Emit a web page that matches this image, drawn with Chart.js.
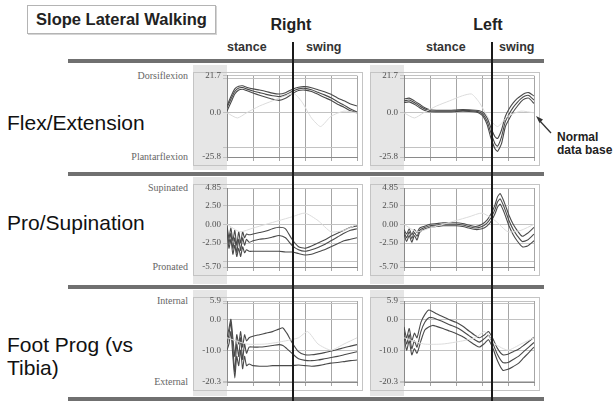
<!DOCTYPE html>
<html>
<head>
<meta charset="utf-8">
<script src="https://cdn.jsdelivr.net/npm/chart.js@4.4.1/dist/chart.umd.min.js"></script>
<style>
  html, body { margin: 0; padding: 0; background: #fff; }
  body { width: 615px; height: 401px; position: relative; overflow: hidden;
         font-family: "Liberation Sans", Arial, sans-serif; color: #1a1a1a; }
  .abs { position: absolute; white-space: nowrap; }
  .title { left: 27px; top: 5px; width: 187px; height: 27px; border: 1px solid #b4b4b4;
           box-shadow: 1px 1px 0 #d4d4d4; font-weight: bold; font-size: 16.5px;
           line-height: 27px; text-align: center; color: #222; }
  .side { font-weight: bold; font-size: 16px; line-height: 16px; width: 80px; text-align: center; color: #222; }
  .phase { font-weight: bold; font-size: 12.5px; line-height: 13px; color: #333; }
  .rowlab { font-size: 21px; line-height: 21px; color: #111; }
  .rule { left: 68px; width: 476px; height: 4px; background: #707070; z-index: 2; }
  .divider { width: 2px; background: #1a1a1a; top: 42px; height: 359px; z-index: 5; }
  .axname { font-family: "Liberation Serif", serif; font-size: 10px; line-height: 10px;
            color: #666; text-align: right; width: 70px; left: 118px; }
  .note { font-weight: bold; font-size: 12px; line-height: 13px; color: #222; left: 557px; }
  .panel { position: absolute; z-index: 1; }
</style>
</head>
<body>
<div class="abs title">Slope Lateral Walking</div>
<div class="abs side" style="left:251px; top:16.5px;">Right</div>
<div class="abs side" style="left:448px; top:16.5px;">Left</div>
<div class="abs phase" style="left:227px; top:41px;">stance</div>
<div class="abs phase" style="left:306px; top:41px;">swing</div>
<div class="abs phase" style="left:426px; top:41px;">stance</div>
<div class="abs phase" style="left:499px; top:41px;">swing</div>

<div class="abs rule" style="top:59px;"></div>
<div class="abs rule" style="top:172px;"></div>
<div class="abs rule" style="top:285px;"></div>
<div class="abs rule" style="top:397px;"></div>

<div class="abs divider" style="left:292px;"></div>
<div class="abs divider" style="left:491px;"></div>

<div class="abs rowlab" style="left:7px; top:112px;">Flex/Extension</div>
<div class="abs rowlab" style="left:7px; top:211.5px;">Pro/Supination</div>
<div class="abs rowlab" style="left:7px; top:333.5px;">Foot Prog (vs</div>
<div class="abs rowlab" style="left:7px; top:357px;">Tibia)</div>

<div class="abs axname" style="top:70.5px;">Dorsiflexion</div>
<div class="abs axname" style="top:152px;">Plantarflexion</div>
<div class="abs axname" style="top:183px;">Supinated</div>
<div class="abs axname" style="top:262px;">Pronated</div>
<div class="abs axname" style="top:296px;">Internal</div>
<div class="abs axname" style="top:377px;">External</div>

<div class="abs note" style="top:131px;">Normal</div>
<div class="abs note" style="top:144px;">data base</div>
<svg class="abs" style="left:530px; top:110px; z-index:6;" width="30" height="30">
  <line x1="21" y1="23" x2="9" y2="10" stroke="#333" stroke-width="1.3"/>
  <polygon points="6,6 13,9.5 9.5,13" fill="#333"/>
</svg>

<script>
// Percent of gait cycle for the vertical grid
const gaitGrid = [0, 20, 40, 60, 80, 100];

// Axis ranges, labelled ticks and grid lines for each measure
const flexRange = [-25.8, 21.7];
const flexLabels = [21.7, 0, -25.8];
const flexGrid = [21.7, 20, 0, -20, -25.8];

const proRange = [-5.7, 4.85];
const proLabels = [4.85, 2.5, 0, -2.5, -5.7];
const proGrid = [4.85, 2.5, 0, -2.5, -5, -5.7];

const progRange = [-20.3, 5.9];
const progLabels = [5.9, 0, -10, -20.3];
const progGrid = [5.9, 5, 0, -10, -20, -20.3];

// Normal reference curves
const normFlexPct = [0, 8, 15, 25, 35, 45, 52, 58, 65, 72, 80, 90, 100];
const normFlex = [0, -3, 0, 4, 7, 10, 11, 6, -3, -8, -2, 1, 0];
const normProPct = [0, 10, 20, 30, 40, 50, 60, 70, 80, 90, 100];
const normPro = [0, -1, -0.5, 0, 0.5, 1, 1.5, 0.5, -1, -0.8, 0];
const normProgPct = [0, 15, 30, 45, 55, 62, 70, 80, 90, 100];
const normProg = [-6, -8, -8, -7, -6, -4, -8, -10, -8, -6];

// Right ankle flexion / extension (mean and +/- 1 SD)
const rFlexPct = [0, 3, 6, 9, 12, 15, 20, 25, 30, 35, 40, 45, 50, 55, 60, 65, 70, 75, 80, 85, 90, 95, 100];
const rFlexMean = [3, 8, 12.5, 14.5, 14.8, 14, 12.8, 11.8, 10.8, 10, 9.5, 10.5, 12.5, 14, 14.3, 13.5, 12, 10.5, 8.8, 6.5, 4.5, 2.2, 0.5];
const rFlexHi = [4, 9.5, 14, 15.5, 15.8, 15, 14, 13.3, 12.5, 11.5, 11, 11.8, 13.7, 15, 15.3, 14.7, 13.5, 12.3, 10.8, 8.7, 7, 5.2, 4];
const rFlexLo = [1, 6, 11, 13.3, 13.8, 13, 11.6, 10.3, 9.1, 8, 7.3, 8.5, 11, 13, 13.3, 12.5, 10.8, 9, 7.3, 5, 3.3, 1.2, 0];

// Left ankle flexion / extension
const lFlexPct = [0, 4, 8, 12, 16, 20, 25, 30, 35, 40, 45, 50, 55, 58, 61, 64, 67, 70, 72, 75, 78, 81, 84, 87, 90, 93, 96, 100];
const lFlexMean = [7, 7.5, 6, 4, 2.2, 1.2, 1, 1, 1, 1.2, 1.4, 1.3, 1, 0.5, -1, -5, -12, -18, -19.5, -14, -5, -0.5, 3.2, 6, 8.3, 9.8, 10.2, 7.5];
const lFlexHi = [8, 8.6, 7, 5, 3, 1.8, 1.5, 1.5, 1.5, 1.7, 1.9, 1.8, 1.5, 1.2, 0.2, -3, -9, -14, -15, -10, -2, 2.5, 5.8, 8.3, 10, 11.4, 11.8, 9.8];
const lFlexLo = [6, 6.4, 5, 3, 1.4, 0.6, 0.5, 0.5, 0.5, 0.7, 0.9, 0.8, 0.5, -0.2, -2.2, -7, -15, -21, -22.5, -18, -8, -3.5, 0.6, 3.7, 6.6, 8.2, 8.6, 5.5];

// Right pronation / supination
const rProPct = [0, 1.5, 3, 4.5, 6, 7.5, 9, 10.5, 12, 13.5, 15, 17, 20, 25, 30, 35, 40, 45, 50, 55, 60, 65, 70, 75, 80, 85, 90, 95, 100];
const rProMean = [-0.5, -2.5, -1.2, -3.2, -1.8, -3.8, -2, -3.5, -1.8, -2.8, -2, -2.4, -2.2, -2, -1.9, -1.7, -1.5, -1.8, -2.8, -3.4, -3.6, -3.4, -3.1, -2.7, -2.2, -1.7, -1.2, -0.8, -0.6];
const rProHi = [-0.2, -1.8, -0.5, -2.2, -0.8, -2.8, -1, -2.5, -1, -1.8, -1.3, -1.4, -1.3, -1.1, -0.9, -0.6, -0.4, -0.6, -2, -3, -3.2, -2.9, -2.5, -2.1, -1.6, -1.2, -0.8, -0.4, -0.2];
const rProLo = [-0.8, -3.2, -2, -4, -2.8, -4.3, -3.2, -4.3, -3, -3.8, -3.4, -3.6, -3.6, -3.6, -3.6, -3.6, -3.6, -3.7, -3.7, -3.9, -4.1, -4, -3.7, -3.4, -3, -2.6, -2.2, -2, -1.8];

// Left pronation / supination
const lProPct = [0, 2, 4, 6, 8, 10, 12, 15, 20, 25, 30, 35, 40, 45, 50, 55, 60, 64, 67, 70, 72, 74, 77, 81, 84, 87, 91, 95, 100];
const lProMean = [-1, -1.8, -1, -1.9, -1.1, -1.6, -0.8, -0.5, -0.2, -0.1, 0, 0, 0, -0.1, -0.3, -0.5, -0.3, 0.2, 0.9, 2, 3, 3.4, 2.3, 0.4, -0.7, -1.5, -2.3, -2.1, -1.3];
const lProHi = [-0.7, -1.3, -0.6, -1.4, -0.7, -1.1, -0.5, -0.3, 0, 0.1, 0.2, 0.2, 0.2, 0.1, -0.1, -0.3, 0, 0.6, 1.4, 2.6, 3.7, 4.1, 3, 1.1, 0, -0.8, -1.6, -1.2, -0.4];
const lProLo = [-1.3, -2.3, -1.5, -2.4, -1.5, -2.1, -1.1, -0.7, -0.4, -0.3, -0.2, -0.2, -0.2, -0.3, -0.5, -0.7, -0.6, -0.2, 0.4, 1.4, 2.3, 2.7, 1.6, -0.3, -1.4, -2.2, -3, -2.9, -2.2];

// Right foot progression (vs tibia)
const rProgPct = [0, 1.5, 3, 4.5, 6, 7.5, 9, 10.5, 12, 13.5, 15, 17, 20, 25, 30, 35, 40, 43, 46, 50, 55, 60, 65, 70, 75, 80, 85, 90, 95, 100];
const rProgMean = [-8, -5, -1, -9, -17, -8, -12, -6, -13, -8, -11, -9, -9, -9, -8.8, -8.5, -8.2, -8.5, -9.5, -11, -12.8, -13.3, -13.4, -13.2, -12.8, -12.4, -12, -11.5, -11, -10.5];
const rProgHi = [-6, -3, 0, -6, -12, -5, -8, -4, -9, -5, -7, -6, -5.5, -5, -4.5, -4, -3.2, -2.8, -4.5, -7.5, -10.5, -11.5, -11.5, -11.2, -10.8, -10.3, -9.8, -9.2, -8.7, -8.2];
const rProgLo = [-10, -8, -4, -12, -19, -12, -15, -10, -16, -12, -15, -14.5, -15, -15.2, -15.2, -15, -15, -15, -15, -15, -14.8, -15, -15.2, -15, -14.6, -14.2, -14, -13.7, -13.4, -13.2];

// Left foot progression (vs tibia)
const lProgPct = [0, 2, 4, 6, 8, 10, 13, 16, 19, 22, 25, 30, 35, 40, 45, 50, 55, 58, 62, 65, 68, 72, 76, 80, 84, 88, 92, 96, 100];
const lProgMean = [-4, -8, -5, -9.5, -7, -9, -4, -1, 0.5, 0.5, 0, -0.8, -1.8, -2.6, -3.8, -5.3, -6.8, -7.4, -6.2, -5.2, -7.5, -11.5, -14, -14, -13, -12, -10.5, -9, -7.5];
const lProgHi = [-2.5, -6, -3, -7, -4.5, -6, -1, 1.5, 3, 2.5, 1.8, 0.8, -0.2, -1, -2.2, -3.8, -5.3, -6, -5, -4, -6, -9.5, -11.5, -11.3, -10.5, -9.7, -8.5, -7.2, -5.8];
const lProgLo = [-5.5, -10, -7, -11.5, -9.5, -11, -7, -3.5, -2.5, -2, -2.3, -3, -3.8, -4.6, -5.6, -7, -8.4, -9, -7.8, -6.6, -9, -13.5, -16.5, -16.2, -15.3, -14.3, -12.5, -10.8, -9];

const X_AXIS_H = 5;
const BAND_W = 34;
const TRACE = '#4a4a4a';
const TRACE_W = 1.1;
const NORMAL = '#dcdcdc';

// Grey label band behind the y ticks and a light outer frame round each panel
const panelFrame = {
  id: 'panelFrame',
  beforeDraw(chart) {
    const { ctx, chartArea: a, height } = chart;
    const bandLeft = a.left - BAND_W;
    ctx.save();
    ctx.fillStyle = '#e6e6e6';
    ctx.fillRect(bandLeft, 1, BAND_W, height - 2);
    ctx.strokeStyle = '#c4c4c4';
    ctx.lineWidth = 1;
    ctx.strokeRect(Math.round(bandLeft) + 0.5, Math.round(a.top) - 3.5,
                   Math.round(a.right + 5 - bandLeft), Math.round(a.bottom - a.top) + 12);
    ctx.restore();
  }
};

function series(pct, vals, color, width) {
  return {
    data: pct.map((p, i) => ({ x: p, y: vals[i] })),
    borderColor: color, borderWidth: width, pointRadius: 0, tension: 0.2, fill: false
  };
}

function trio(pct, hi, mean, lo) {
  return [series(pct, hi, TRACE, TRACE_W), series(pct, mean, TRACE, TRACE_W), series(pct, lo, TRACE, TRACE_W)];
}

function buildPanel(box, plot, range, grid, labels, dec, lines) {
  const wrap = document.createElement('div');
  wrap.className = 'panel';
  Object.assign(wrap.style, { left: box.left + 'px', top: box.top + 'px',
                              width: box.width + 'px', height: box.height + 'px' });
  const cv = document.createElement('canvas');
  wrap.appendChild(cv);
  document.body.appendChild(wrap);

  return new Chart(cv, {
    type: 'line',
    data: { datasets: lines },
    options: {
      responsive: true, maintainAspectRatio: false, animation: false,
      layout: { padding: {
        top: plot.top - box.top, left: 0,
        right: box.left + box.width - plot.right,
        bottom: box.top + box.height - plot.bottom - X_AXIS_H } },
      plugins: { legend: { display: false }, tooltip: { enabled: false } },
      scales: {
        x: {
          type: 'linear', min: 0, max: 100,
          afterBuildTicks: s => { s.ticks = gaitGrid.map(v => ({ value: v })); },
          ticks: { display: false },
          grid: { color: '#a6a6a6', tickLength: 4 },
          border: { color: '#8a8a8a' },
          afterFit: s => { s.height = X_AXIS_H; }
        },
        y: {
          type: 'linear', min: range[0], max: range[1],
          afterBuildTicks: s => { s.ticks = grid.map(v => ({ value: v })); },
          ticks: {
            autoSkip: false, padding: 2, color: '#505050',
            font: { family: '"Liberation Serif", "DejaVu Serif", serif', size: 9 },
            callback: v => labels.includes(v) ? v.toFixed(dec) : ''
          },
          grid: { color: '#c2c2c2', tickLength: 4 },
          border: { color: '#8a8a8a' },
          afterFit: s => { s.width = plot.left - box.left; }
        }
      }
    },
    plugins: [panelFrame]
  });
}

const colR = { left: 190, width: 180, plotL: 227, plotR: 357 };
const colL = { left: 366, width: 180, plotL: 404, plotR: 534 };
const rows = [
  { top: 64, height: 107, plotT: 75.7, plotB: 157 },
  { top: 176, height: 109, plotT: 188, plotB: 267 },
  { top: 289, height: 108, plotT: 301, plotB: 382 }
];

function place(col, row) {
  return [
    { left: col.left, top: row.top, width: col.width, height: row.height },
    { left: col.plotL, right: col.plotR, top: row.plotT, bottom: row.plotB }
  ];
}

const panels = [
  [colR, rows[0], flexRange, flexGrid, flexLabels, 1,
   [series(normFlexPct, normFlex, NORMAL, 1), ...trio(rFlexPct, rFlexHi, rFlexMean, rFlexLo)]],
  [colL, rows[0], flexRange, flexGrid, flexLabels, 1,
   [series(normFlexPct, normFlex, NORMAL, 1), ...trio(lFlexPct, lFlexHi, lFlexMean, lFlexLo)]],
  [colR, rows[1], proRange, proGrid, proLabels, 2,
   [series(normProPct, normPro, NORMAL, 1), ...trio(rProPct, rProHi, rProMean, rProLo)]],
  [colL, rows[1], proRange, proGrid, proLabels, 2,
   [series(normProPct, normPro, NORMAL, 1), ...trio(lProPct, lProHi, lProMean, lProLo)]],
  [colR, rows[2], progRange, progGrid, progLabels, 1,
   [series(normProgPct, normProg, NORMAL, 1), ...trio(rProgPct, rProgHi, rProgMean, rProgLo)]],
  [colL, rows[2], progRange, progGrid, progLabels, 1,
   [series(normProgPct, normProg, NORMAL, 1), ...trio(lProgPct, lProgHi, lProgMean, lProgLo)]]
];

panels.forEach(([col, row, range, grid, labels, dec, lines]) => {
  const [box, plot] = place(col, row);
  buildPanel(box, plot, range, grid, labels, dec, lines);
});
</script>
</body>
</html>
